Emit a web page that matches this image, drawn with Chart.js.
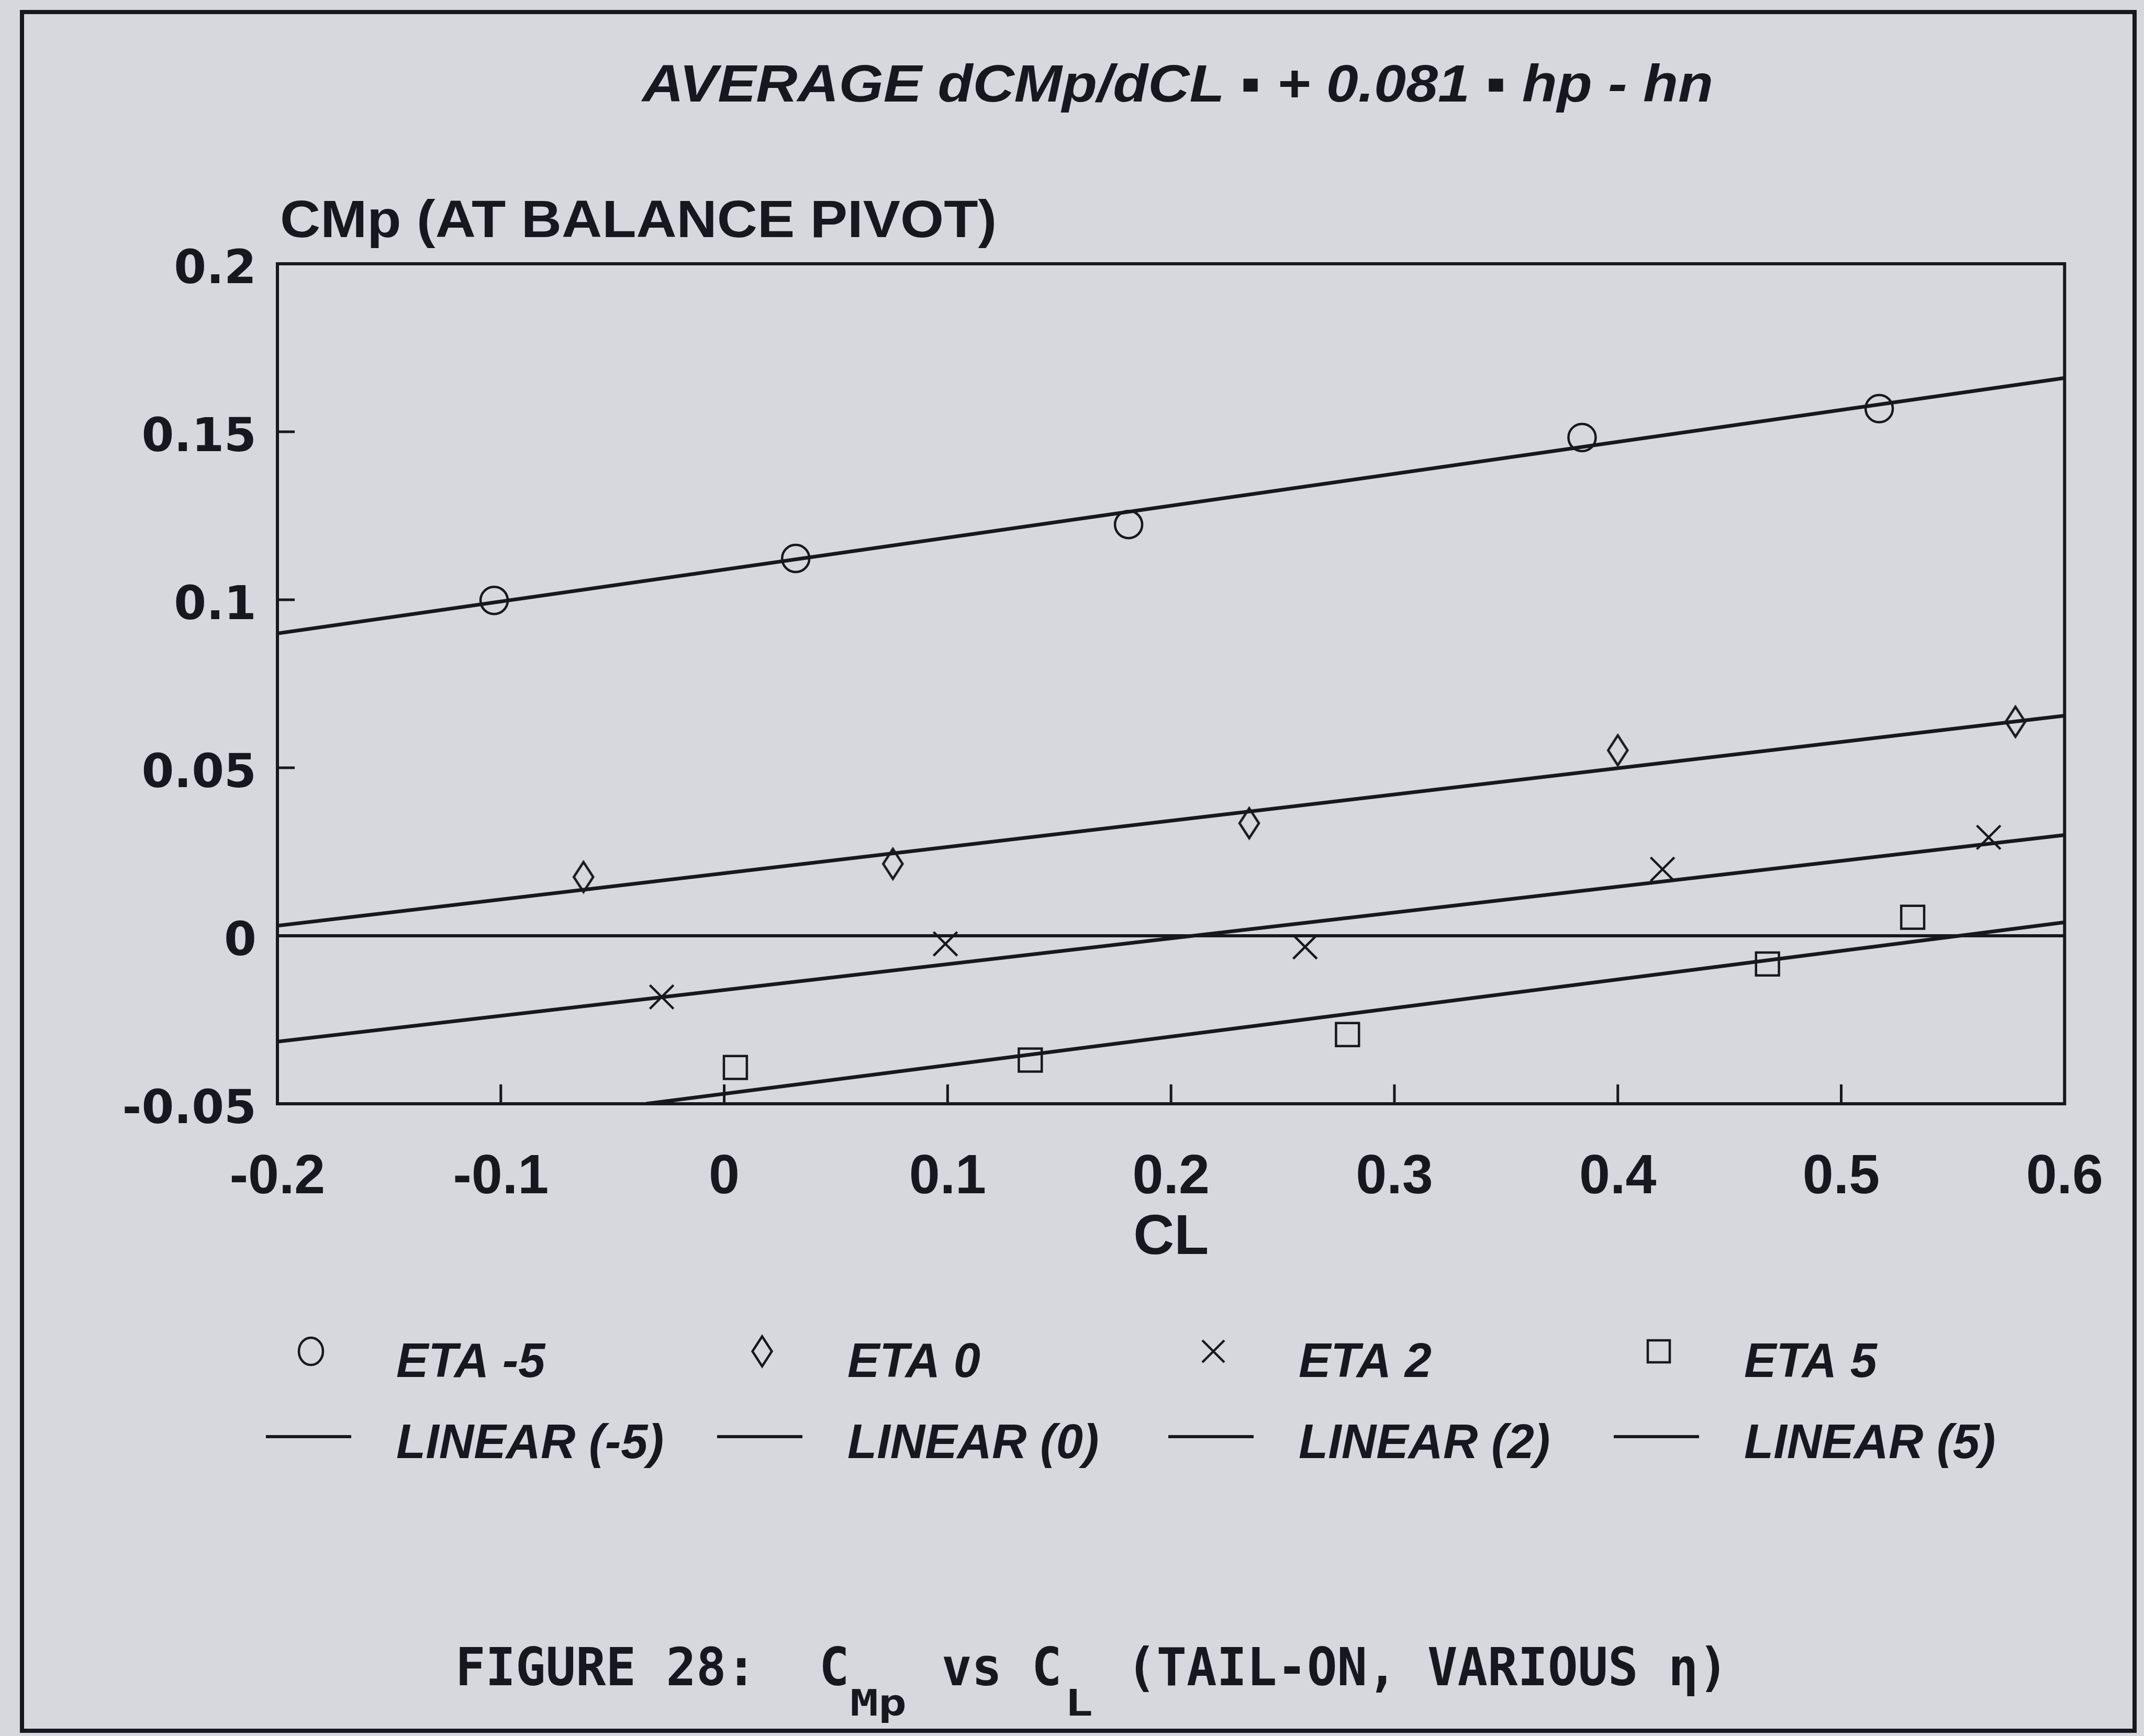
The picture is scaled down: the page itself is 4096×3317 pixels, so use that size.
<!DOCTYPE html>
<html>
<head>
<meta charset="utf-8">
<script src="https://cdn.jsdelivr.net/npm/chart.js@4.4.1/dist/chart.umd.min.js"></script>
<style>
  html, body { margin: 0; padding: 0; background: #d7d8dd; }
  canvas { display: block; }
</style>
</head>
<body>
<canvas id="chart" width="4096" height="3317"></canvas>
<script>
// ---- Measured pitching moment about the balance pivot vs lift coefficient ----
const etaM5X = [-0.103, 0.032, 0.181, 0.384, 0.517];
const etaM5Y = [0.0998, 0.1123, 0.1224, 0.1483, 0.1569];

const eta0X = [-0.063, 0.0755, 0.235, 0.400, 0.578];
const eta0Y = [0.0175, 0.0214, 0.0335, 0.0552, 0.0637];

const eta2X = [-0.028, 0.099, 0.260, 0.420, 0.566];
const eta2Y = [-0.0182, -0.0024, -0.0033, 0.0198, 0.0293];

const eta5X = [0.005, 0.137, 0.279, 0.467, 0.532];
const eta5Y = [-0.0392, -0.0370, -0.0294, -0.0084, 0.0055];

// Linear fits: [CL, CMp] at each end of the drawn segment
const linM5 = [[-0.2, 0.090], [0.6, 0.166]];
const lin0  = [[-0.2, 0.003], [0.6, 0.0655]];
const lin2  = [[-0.2, -0.0315], [0.6, 0.030]];
const lin5  = [[-0.035, -0.05], [0.6, 0.004]];

// Axis ticks
const xTickValues = [-0.2, -0.1, 0, 0.1, 0.2, 0.3, 0.4, 0.5, 0.6];
const xTickLabels = ['-0.2', '-0.1', '0', '0.1', '0.2', '0.3', '0.4', '0.5', '0.6'];
const yTickValues = [-0.05, 0, 0.05, 0.1, 0.15, 0.2];
const yTickLabels = ['-0.05', '0', '0.05', '0.1', '0.15', '0.2'];

// Text
const titleText = 'AVERAGE dCMp/dCL \u25AA + 0.081 \u25AA hp - hn';
const yAxisText = 'CMp (AT BALANCE PIVOT)';
const xAxisText = 'CL';
const pointLabels = ['ETA -5', 'ETA 0', 'ETA 2', 'ETA 5'];
const lineLabels = ['LINEAR (-5)', 'LINEAR (0)', 'LINEAR (2)', 'LINEAR (5)'];

const INK = '#17171f';
const PAPER = '#d7d8dd';

// Tall hollow diamond marker
function makeDiamond(w, h, lw) {
  const c = document.createElement('canvas');
  c.width = w; c.height = h;
  const g = c.getContext('2d');
  g.strokeStyle = INK;
  g.lineWidth = lw;
  g.lineJoin = 'miter';
  const p = lw;
  g.beginPath();
  g.moveTo(w / 2, p);
  g.lineTo(w - p, h / 2);
  g.lineTo(w / 2, h - p);
  g.lineTo(p, h / 2);
  g.closePath();
  g.stroke();
  return c;
}
const diamondImg = makeDiamond(46, 66, 4.5);

function pointSet(label, xs, ys, style, radius) {
  return {
    label,
    data: xs.map((x, i) => ({ x, y: ys[i] })),
    showLine: false,
    pointStyle: style,
    pointRadius: radius,
    pointHoverRadius: radius,
    pointBorderWidth: 4.5,
    pointBorderColor: INK,
    pointBackgroundColor: 'rgba(0,0,0,0)',
    borderColor: INK,
    backgroundColor: 'rgba(0,0,0,0)'
  };
}
function fitSet(label, seg) {
  return {
    label,
    data: seg.map(p => ({ x: p[0], y: p[1] })),
    showLine: true,
    pointRadius: 0,
    borderColor: INK,
    borderWidth: 7,
    fill: false
  };
}

const datasets = [
  fitSet(lineLabels[0], linM5),
  fitSet(lineLabels[1], lin0),
  fitSet(lineLabels[2], lin2),
  fitSet(lineLabels[3], lin5),
  pointSet(pointLabels[0], etaM5X, etaM5Y, 'circle', 26),
  pointSet(pointLabels[1], eta0X, eta0Y, diamondImg, 26),
  pointSet(pointLabels[2], eta2X, eta2Y, 'crossRot', 32),
  pointSet(pointLabels[3], eta5X, eta5Y, 'rect', 31)
];

// Draws text stretched horizontally to a given width
function stretchText(ctx, text, x, y, font, width) {
  ctx.save();
  ctx.font = font;
  ctx.textAlign = 'left';
  ctx.textBaseline = 'alphabetic';
  const natural = ctx.measureText(text).width;
  ctx.translate(x, y);
  ctx.scale(width / natural, 1);
  ctx.fillText(text, 0, 0);
  ctx.restore();
}
function scaledText(ctx, text, x, y, font, sx) {
  ctx.save();
  ctx.font = font;
  ctx.textAlign = 'left';
  ctx.textBaseline = 'alphabetic';
  ctx.translate(x, y);
  ctx.scale(sx, 1);
  ctx.fillText(text, 0, 0);
  ctx.restore();
}

function legendMarker(ctx, kind, cx, cy) {
  ctx.save();
  ctx.strokeStyle = INK;
  ctx.lineWidth = 4.5;
  ctx.beginPath();
  if (kind === 0) {
    ctx.ellipse(cx, cy, 23, 26, 0, 0, Math.PI * 2);
    ctx.stroke();
  } else if (kind === 1) {
    ctx.drawImage(diamondImg, cx - diamondImg.width / 2, cy - diamondImg.height / 2);
  } else if (kind === 2) {
    const a = 21;
    ctx.moveTo(cx - a, cy - a); ctx.lineTo(cx + a, cy + a);
    ctx.moveTo(cx + a, cy - a); ctx.lineTo(cx - a, cy + a);
    ctx.stroke();
  } else {
    ctx.rect(cx - 21, cy - 21, 42, 42);
    ctx.stroke();
  }
  ctx.restore();
}

const paperPlugin = {
  id: 'paper',
  beforeDraw(chart) {
    const ctx = chart.ctx;
    ctx.save();
    ctx.fillStyle = PAPER;
    ctx.fillRect(0, 0, chart.width, chart.height);
    ctx.restore();
  },
  beforeDatasetsDraw(chart) {
    const { ctx, chartArea: a, scales } = chart;
    ctx.save();
    ctx.strokeStyle = INK;
    ctx.lineWidth = 6;
    ctx.strokeRect(a.left, a.top, a.right - a.left, a.bottom - a.top);
    // inward tick marks
    ctx.beginPath();
    const xs = scales.x, ys = scales.y;
    xs.ticks.forEach(t => {
      if (t.value > xs.min && t.value < xs.max) {
        const px = xs.getPixelForValue(t.value);
        ctx.moveTo(px, a.bottom);
        ctx.lineTo(px, a.bottom - 37);
      }
    });
    ys.ticks.forEach(t => {
      if (t.value > ys.min && t.value < ys.max && t.value !== 0) {
        const py = ys.getPixelForValue(t.value);
        ctx.moveTo(a.left, py);
        ctx.lineTo(a.left + 33, py);
      }
    });
    ctx.lineWidth = 5;
    ctx.stroke();
    ctx.restore();
  },
  afterDraw(chart) {
    const ctx = chart.ctx;
    ctx.save();
    ctx.fillStyle = INK;
    ctx.strokeStyle = INK;

    // page frame
    ctx.lineWidth = 8;
    ctx.strokeRect(42, 23, 4078 - 42, 3307 - 23);

    // headline and vertical axis caption
    stretchText(ctx, titleText, 1227, 194, 'italic bold 100px "Liberation Sans", Arial, sans-serif', 2046);
    stretchText(ctx, yAxisText, 535, 453, 'bold 101px "Liberation Sans", Arial, sans-serif', 1369);

    // legend
    const textX = [757, 1619, 2481, 3332];
    ctx.font = 'italic bold 92px "Liberation Sans", Arial, sans-serif';
    ctx.textBaseline = 'alphabetic';
    ctx.textAlign = 'left';
    for (let i = 0; i < 4; i++) {
      legendMarker(ctx, i, textX[i] - 163, 2582);
      ctx.fillText(pointLabels[i], textX[i], 2631);
      ctx.beginPath();
      ctx.lineWidth = 6;
      ctx.moveTo(textX[i] - 249, 2745);
      ctx.lineTo(textX[i] - 86, 2745);
      ctx.stroke();
      ctx.fillText(lineLabels[i], textX[i], 2786);
    }

    // figure caption (typewriter style with subscripts)
    const capFont = 'bold 100px "DejaVu Sans Mono", "Liberation Mono", monospace';
    const subFont = 'bold 69px "DejaVu Sans Mono", "Liberation Mono", monospace';
    const sx = 0.955;
    scaledText(ctx, 'FIGURE 28:', 870, 3220, capFont, sx);
    scaledText(ctx, 'C', 1565, 3220, capFont, sx);
    scaledText(ctx, 'Mp', 1624, 3278, subFont, 1.3);
    scaledText(ctx, 'vs', 1799, 3220, capFont, sx);
    scaledText(ctx, 'C', 1971, 3220, capFont, sx);
    scaledText(ctx, 'L', 2034, 3278, subFont, 1.3);
    scaledText(ctx, '(TAIL-ON, VARIOUS \u03B7)', 2152, 3220, capFont, sx);
    ctx.restore();
  }
};

new Chart(document.getElementById('chart'), {
  type: 'scatter',
  data: { datasets },
  options: {
    responsive: false,
    animation: false,
    devicePixelRatio: 1,
    layout: { padding: { left: 80, top: 504, right: 151, bottom: 886 } },
    plugins: {
      legend: { display: false },
      tooltip: { enabled: false },
      title: { display: false }
    },
    scales: {
      x: {
        type: 'linear',
        min: -0.2,
        max: 0.6,
        afterBuildTicks: s => { s.ticks = xTickValues.map(v => ({ value: v })); },
        afterFit: s => { s.height = 322; },
        grid: { display: false, drawTicks: false },
        border: { display: true, color: INK, width: 6 },
        ticks: {
          color: INK,
          padding: 78,
          maxRotation: 0,
          autoSkip: false,
          font: { family: '"Liberation Sans", Arial, sans-serif', weight: 'bold', size: 106 },
          callback: (v, i) => xTickLabels[i]
        },
        title: {
          display: true,
          text: xAxisText,
          color: INK,
          padding: 0,
          font: { family: '"Liberation Sans", Arial, sans-serif', weight: 'bold', size: 108 }
        }
      },
      y: {
        type: 'linear',
        min: -0.05,
        max: 0.2,
        afterBuildTicks: s => { s.ticks = yTickValues.map(v => ({ value: v })); },
        afterFit: s => { s.width = 450; },
        grid: {
          drawTicks: false,
          lineWidth: 6,
          color: c => (c.tick && c.tick.value === 0 ? INK : 'rgba(0,0,0,0)')
        },
        border: { display: true, color: INK, width: 6 },
        ticks: {
          color: INK,
          padding: 40,
          labelOffset: 14,
          autoSkip: false,
          font: { family: '"DejaVu Sans", sans-serif', weight: 'bold', size: 89 },
          callback: (v, i) => yTickLabels[i]
        }
      }
    }
  },
  plugins: [paperPlugin]
});
</script>
</body>
</html>
